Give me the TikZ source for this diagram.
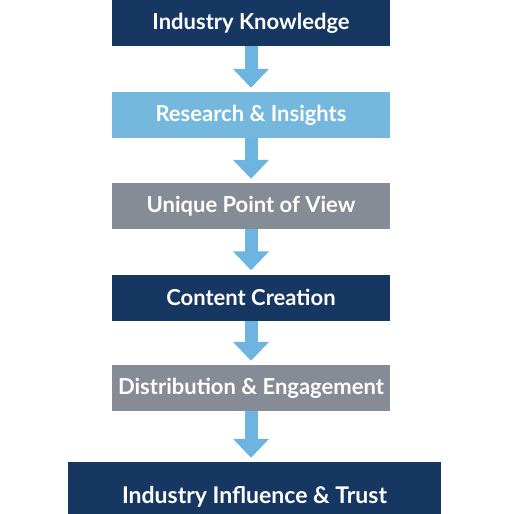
\documentclass[tikz,border=0pt]{standalone}
\usepackage{fontspec}
\setmainfont{Lato}
\usetikzlibrary{arrows.meta}
\definecolor{navy}{HTML}{173763}
\definecolor{lightbox}{HTML}{74B8DE}
\definecolor{graybox}{HTML}{868C95}
\definecolor{arrowblue}{HTML}{6DB5E0}
\tikzset{
  stage/.style={rectangle, minimum width=278pt, minimum height=46pt, inner sep=0pt,
    text=white, font=\bfseries\fontsize{22}{26}\selectfont},
  flow/.style={draw=arrowblue, line width=13pt,
    -{Triangle[width=35pt,length=19pt]}, shorten >=4pt}
}
\begin{document}
\begin{tikzpicture}[x=1pt,y=-1pt]
\useasboundingbox (0,0) rectangle (509,514);
\node[stage, fill=navy] (b1) at (251,23) {Industry Knowledge};
\node[stage, fill=lightbox] (b2) at (251,115) {Research \& Insights};
\node[stage, fill=graybox] (b3) at (251,206) {Unique Point of View};
\node[stage, fill=navy] (b4) at (251,297.5) {Content Creation};
\node[stage, fill=graybox] (b5) at (251,388) {Distribution \& Engagement};
\node[stage, fill=navy, minimum width=373pt, minimum height=52pt] (b6) at (254.5,488) {};
\node[text=white, font=\bfseries\fontsize{23}{27}\selectfont, inner sep=0pt] (t6) at (254.5,497) {Industry Influence \& Trust};
\draw[flow] (b1.south) -- (b2.north);
\draw[flow] (b2.south) -- (b3.north);
\draw[flow] (b3.south) -- (b4.north);
\draw[flow] (b4.south) -- (b5.north);
\draw[flow] (b5.south) -- (b5.south |- b6.north);
\end{tikzpicture}
\end{document}
